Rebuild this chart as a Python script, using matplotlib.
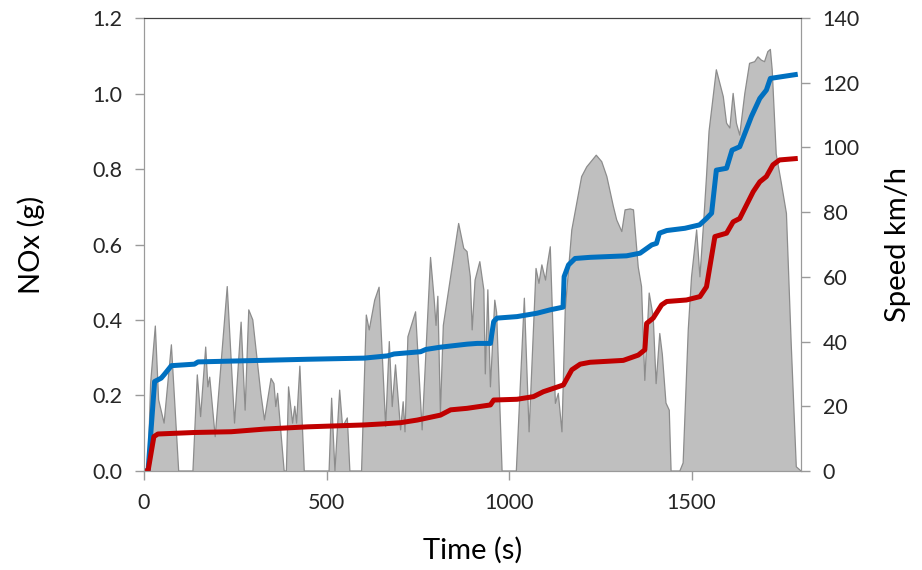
import numpy as np
import matplotlib.pyplot as plt

# speed trace (s, km/h)
speed_t = [0, 11, 18, 31, 40, 55, 75, 95, 134, 146, 155, 169, 175, 180, 195, 228, 248,
           266, 277, 287, 298, 320, 330, 348, 356, 361, 366, 384, 390, 396, 407, 413, 418,
           427, 439, 507, 514, 523, 536, 544, 557, 564, 596, 609, 617, 632, 644, 662, 672,
           680, 689, 703, 710, 715, 723, 744, 762, 785, 795, 800, 805, 812, 820, 840, 862,
           876, 885, 894, 899, 907, 920, 931, 935, 942, 949, 961, 966, 981, 1020, 1042,
           1055, 1074, 1082, 1090, 1100, 1105, 1113, 1127, 1135, 1145, 1154, 1172, 1199,
           1213, 1239, 1254, 1268, 1286, 1295, 1309, 1318, 1332, 1341, 1348, 1354, 1363,
           1372, 1384, 1395, 1403, 1413, 1420, 1430, 1439, 1444, 1468, 1477, 1491, 1500,
           1514, 1523, 1533, 1541, 1548, 1568, 1587, 1596, 1605, 1614, 1623, 1632, 1646,
           1659, 1673, 1682, 1691, 1700, 1709, 1716, 1721, 1732, 1746, 1760, 1773, 1787,
           1800]
speed_v = [0, 0, 27, 44.8, 22, 14.8, 39, 0, 0, 29.7, 16.8, 38.3, 26, 29, 10.6, 57, 14.8,
           46, 18.8, 49.8, 46.7, 24, 15.8, 28.6, 27, 19.9, 24, 0, 0, 26, 14.8, 20, 14.8,
           32.4, 0, 0, 22.5, 0, 25, 13.7, 16.4, 0, 0, 48.2, 43.6, 52.8, 56.8, 13.7, 40,
           19.9, 32.8, 12.7, 21.4, 12.1, 41.5, 49.2, 12.7, 66, 53, 45, 54, 18, 45, 60, 76.5,
           68.8, 67.8, 60, 43.6, 59, 64.7, 56, 30, 56, 26, 52.8, 49, 0, 0, 53.4,
           12.1, 62.6, 58, 63.7, 59, 63.7, 69.3, 20.9, 24, 12.1, 49.8, 74.5, 91,
           94, 97.6, 95.6, 91, 81.7, 77.6, 74, 80.7, 81, 80.7, 71, 63, 57,
           28, 55, 47.7, 27, 42.5, 36, 21, 18.8, 0, 0, 2.5, 43.6, 60,
           74.5, 60, 76.5, 91, 105, 124, 115.7, 107.5, 106, 116.7, 107.5, 103.8, 116.7,
           126, 126.5, 128, 127, 126.5, 129.6, 130.3, 124, 98, 89, 79.6, 39.5, 1.3,
           0]

# cumulative NOx, blue trace
blue_t = [0, 11, 29, 47, 55, 75, 138, 148, 448, 603, 667, 685, 758, 772, 812, 885, 913,
          949, 958, 967, 1022, 1077, 1113, 1148, 1151, 1163, 1181, 1222, 1322, 1359, 1391,
          1404, 1412, 1432, 1482, 1522, 1541, 1555, 1568, 1596, 1611, 1632, 1664, 1687,
          1705, 1716, 1750, 1791]
blue_nox = [0, 0, 0.237, 0.246, 0.255, 0.279, 0.283, 0.289, 0.296, 0.299, 0.305, 0.310,
            0.316, 0.322, 0.328, 0.336, 0.338, 0.338, 0.396, 0.405, 0.409, 0.418, 0.427,
            0.434, 0.515, 0.546, 0.563, 0.566, 0.570, 0.577, 0.599, 0.603, 0.630, 0.637,
            0.643, 0.652, 0.669, 0.683, 0.797, 0.802, 0.850, 0.859, 0.939, 0.987, 1.009,
            1.040, 1.045, 1.051]

# cumulative NOx, red trace
red_t = [0, 11, 27, 38, 138, 239, 330, 448, 603, 658, 703, 749, 812, 840, 885, 949, 958,
         1022, 1067, 1094, 1131, 1149, 1172, 1195, 1222, 1313, 1354, 1372, 1377, 1395,
         1418, 1432, 1486, 1523, 1541, 1564, 1596, 1614, 1632, 1669, 1687, 1705, 1723,
         1741, 1791]
red_nox = [0, 0, 0.091, 0.098, 0.102, 0.104, 0.111, 0.117, 0.122, 0.125, 0.128, 0.135,
           0.148, 0.162, 0.166, 0.175, 0.188, 0.190, 0.197, 0.210, 0.222, 0.228, 0.268,
           0.283, 0.288, 0.293, 0.307, 0.321, 0.391, 0.405, 0.440, 0.449, 0.453, 0.462,
           0.488, 0.621, 0.630, 0.660, 0.669, 0.740, 0.766, 0.780, 0.811, 0.824, 0.828]

plt.rcParams['font.family'] = ['Lato', 'DejaVu Sans']

fig = plt.figure(figsize=(9.22, 5.7), dpi=100)
ax1 = fig.add_axes([0.1562, 0.1737, 0.7126, 0.7947])
ax2 = ax1.twinx()

ax2.fill_between(speed_t, speed_v, 0, facecolor='#bfbfbf', edgecolor='none')
ax2.plot(speed_t, speed_v, color='#8c8c8c', lw=0.9)
ax2.set_ylim(0, 140)
ax2.set_yticks(np.arange(0, 141, 20))
ax2.set_ylabel('Speed km/h', fontsize=21)
ax2.yaxis.set_label_coords(1.128, 0.5)

ax1.set_zorder(ax2.get_zorder() + 1)
ax1.patch.set_visible(False)
ax1.plot(blue_t, blue_nox, color='#0070c0', lw=3.6, solid_capstyle='butt')
ax1.plot(red_t, red_nox, color='#c00000', lw=3.6, solid_capstyle='butt')
ax1.set_xlim(0, 1800)
ax1.set_ylim(0, 1.2)
ax1.set_xticks([0, 500, 1000, 1500])
ax1.set_yticks(np.arange(0, 1.21, 0.2))
ax1.set_yticklabels(['%.1f' % v for v in np.arange(0, 1.21, 0.2)])
ax1.set_xlabel('Time (s)', fontsize=21)
ax1.set_ylabel('NOx (g)', fontsize=21)
ax1.xaxis.set_label_coords(0.5, -0.1457)
ax1.yaxis.set_label_coords(-0.1507, 0.5)

for ax in (ax1, ax2):
    ax.tick_params(labelsize=15.5, labelcolor='#262626', color='#9a9a9a', length=6.5,
                   width=1, direction='out', pad=9)
    for side in ('left', 'right', 'bottom'):
        ax.spines[side].set_color('#9a9a9a')
    ax.spines['top'].set_color('#404040')

fig.savefig('out.png', dpi=100)
